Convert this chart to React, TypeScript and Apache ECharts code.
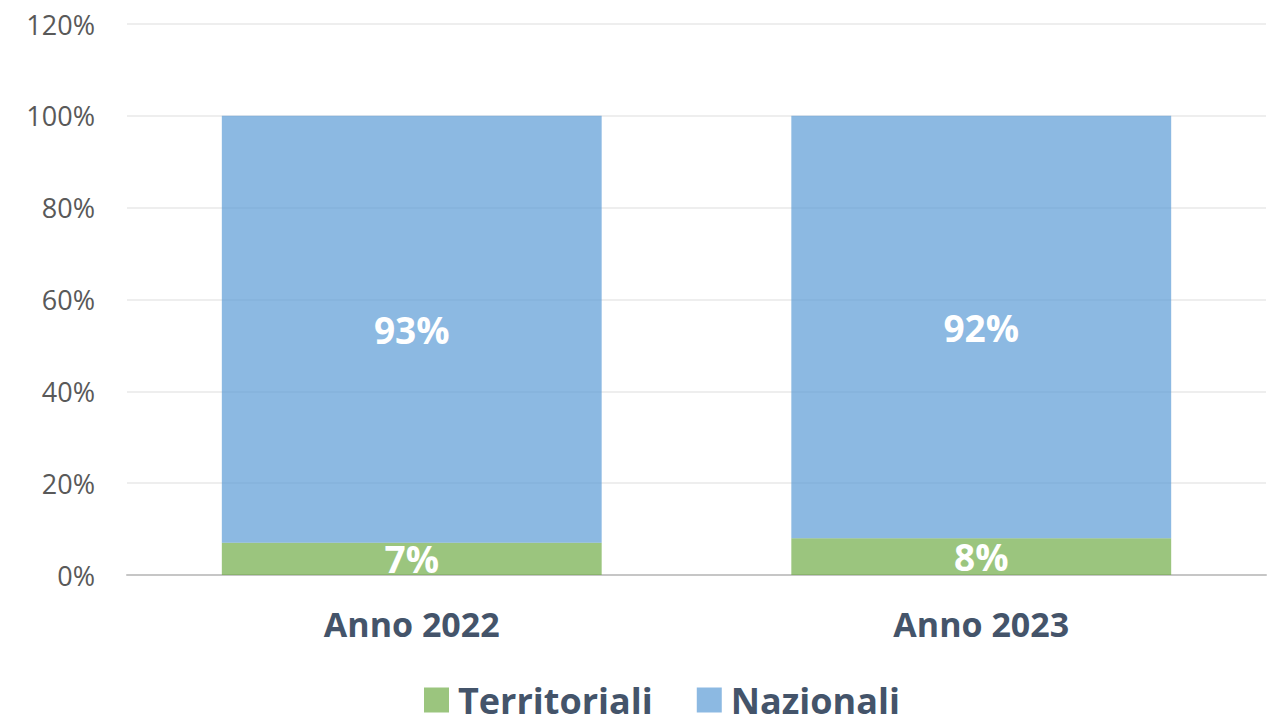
import React, { useEffect, useRef } from "react";
import * as echarts from "echarts";

const categories = ["Anno 2022", "Anno 2023"];
const territoriali = [7, 8];
const nazionali = [93, 92];
const yTicks = { min: 0, max: 120, interval: 20 };

export default function App() {
  const ref = useRef<HTMLDivElement>(null);
  useEffect(() => {
    const chart = echarts.init(ref.current!, null, { renderer: "svg" });
    const font = "'Open Sans', 'Noto Sans', sans-serif";
    const labelStyle = {
      show: true,
      position: "inside" as const,
      formatter: (p: any) => p.value + "%",
      color: "#ffffff",
      fontWeight: "bold" as const,
      fontSize: 37,
      fontFamily: font,
    };
    chart.setOption({
      animation: false,
      textStyle: { fontFamily: font },
      grid: { left: 127, right: 9, top: 24, bottom: 150, containLabel: false },
      legend: {
        data: ["Territoriali", "Nazionali"],
        top: 682,
        left: 424,
        padding: 0,
        icon: "rect",
        itemWidth: 25,
        itemHeight: 25,
        itemGap: 44,
        textStyle: {
          color: "#44546A",
          fontWeight: "bold",
          fontSize: 36,
          lineHeight: 32,
          fontFamily: font,
          padding: [0, 0, 0, 4],
        },
      },
      xAxis: {
        type: "category",
        data: categories,
        axisLine: { show: true, lineStyle: { color: "#C6C6C6", width: 2 } },
        axisTick: { show: false },
        axisLabel: {
          color: "#44546A",
          fontWeight: "bold",
          fontSize: 34,
          fontFamily: font,
          margin: 32,
        },
      },
      yAxis: {
        type: "value",
        min: yTicks.min,
        max: yTicks.max,
        interval: yTicks.interval,
        axisLine: { show: false },
        axisTick: { show: false },
        splitLine: { lineStyle: { color: "#EEEEEE", width: 2 } },
        axisLabel: {
          formatter: (v: number) => v + "%",
          color: "#595959",
          fontSize: 27,
          fontFamily: font,
          margin: 32,
        },
      },
      series: [
        {
          name: "Territoriali",
          type: "bar",
          stack: "total",
          data: territoriali,
          barCategoryGap: "33.3%",
          itemStyle: { color: "rgba(112,173,71,0.7)" },
          label: labelStyle,
        },
        {
          name: "Nazionali",
          type: "bar",
          stack: "total",
          data: nazionali,
          barCategoryGap: "33.3%",
          itemStyle: { color: "rgba(91,155,213,0.7)" },
          label: labelStyle,
        },
      ],
    });
    return () => chart.dispose();
  }, []);
  return (
    <div
      ref={ref}
      style={{ position: "fixed", left: 0, top: 0, width: 1275, height: 725, background: "#fff" }}
    />
  );
}
